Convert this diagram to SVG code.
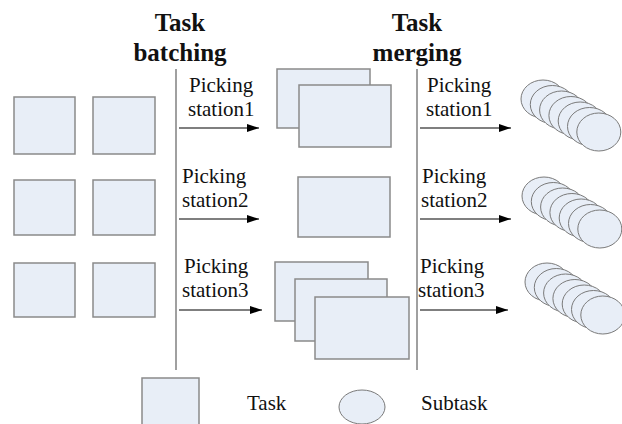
<svg xmlns="http://www.w3.org/2000/svg" width="622" height="424" viewBox="0 0 622 424">
<defs>
<style>
.t{fill:#e8eef7;stroke:#8a8a8a;stroke-width:1.5}
.e{fill:#e8eef7;stroke:#7a7a7a;stroke-width:1}
.h{font-family:'Liberation Serif','Times New Roman',serif;font-weight:bold;font-size:25px;fill:#111;text-anchor:middle}
.l{font-family:'Liberation Serif','Times New Roman',serif;font-size:21px;fill:#111}
.v{stroke:#808080;stroke-width:1.5;fill:none}
.a{stroke:#000;stroke-width:1.2;fill:none;marker-end:url(#ah)}
</style>
<marker id="ah" markerWidth="12" markerHeight="8" refX="12" refY="4" orient="auto" markerUnits="userSpaceOnUse">
<path d="M0,0 L12,4 L0,8 Z" fill="#000"/>
</marker>
<ellipse id="el" rx="22" ry="19" class="e"/>
<g id="stk">
<use href="#el" x="0" y="0"/>
<use href="#el" x="9.3" y="5.5"/>
<use href="#el" x="18.6" y="11"/>
<use href="#el" x="27.9" y="16.5"/>
<use href="#el" x="37.2" y="22"/>
<use href="#el" x="46.5" y="27.5"/>
<use href="#el" x="55.8" y="33"/>
</g>
</defs>
<rect width="622" height="424" fill="#fff"/>
<g id="headings">
<text class="h" x="180" y="31">Task</text>
<text class="h" x="180" y="61">batching</text>
<text class="h" x="417" y="31">Task</text>
<text class="h" x="417" y="61">merging</text>
</g>
<g id="tasks">
<rect class="t" x="14" y="97" width="61" height="57"/>
<rect class="t" x="93" y="97" width="62" height="57"/>
<rect class="t" x="14" y="180" width="61" height="55"/>
<rect class="t" x="93" y="180" width="62" height="55"/>
<rect class="t" x="14" y="263" width="61" height="54"/>
<rect class="t" x="93" y="263" width="62" height="54"/>
</g>
<g id="batch1">
<rect class="t" x="277" y="69" width="93" height="59"/>
<rect class="t" x="299" y="85" width="92" height="62"/>
</g>
<g id="batch2">
<rect class="t" x="298" y="177" width="92" height="60"/>
</g>
<g id="batch3">
<rect class="t" x="275" y="262" width="93" height="59"/>
<rect class="t" x="295" y="279" width="92" height="62"/>
<rect class="t" x="315" y="297" width="94" height="62"/>
</g>
<g id="sub1"><use href="#stk" x="543" y="99"/></g>
<g id="sub2"><use href="#stk" x="544" y="196"/></g>
<g id="sub3"><use href="#stk" x="547" y="282"/></g>
<g id="connectors">
<line class="v" x1="176" y1="69" x2="176" y2="370"/>
<line class="v" x1="417" y1="69" x2="417" y2="370"/>
<line class="a" x1="179" y1="128" x2="259" y2="128"/>
<line class="a" x1="179" y1="219" x2="259" y2="219"/>
<line class="a" x1="179" y1="310" x2="262" y2="310"/>
<line class="a" x1="420" y1="128" x2="511" y2="128"/>
<line class="a" x1="420" y1="219" x2="511" y2="219"/>
<line class="a" x1="420" y1="310" x2="508" y2="310"/>
</g>
<g id="labels">
<text class="l" x="189" y="92">Picking</text>
<text class="l" x="188" y="116">station1</text>
<text class="l" x="182" y="183">Picking</text>
<text class="l" x="182" y="207">station2</text>
<text class="l" x="184" y="273">Picking</text>
<text class="l" x="182" y="297">station3</text>
<text class="l" x="427" y="92">Picking</text>
<text class="l" x="426" y="116">station1</text>
<text class="l" x="422" y="183">Picking</text>
<text class="l" x="421" y="207">station2</text>
<text class="l" x="420" y="273">Picking</text>
<text class="l" x="418" y="297">station3</text>
</g>
<g id="legend-task">
<rect class="t" x="142" y="378" width="57" height="50"/>
<text class="l" x="247" y="410">Task</text>
</g>
<g id="legend-subtask">
<ellipse class="e" cx="362" cy="407" rx="23" ry="17"/>
<text class="l" x="421" y="410">Subtask</text>
</g>
</svg>
